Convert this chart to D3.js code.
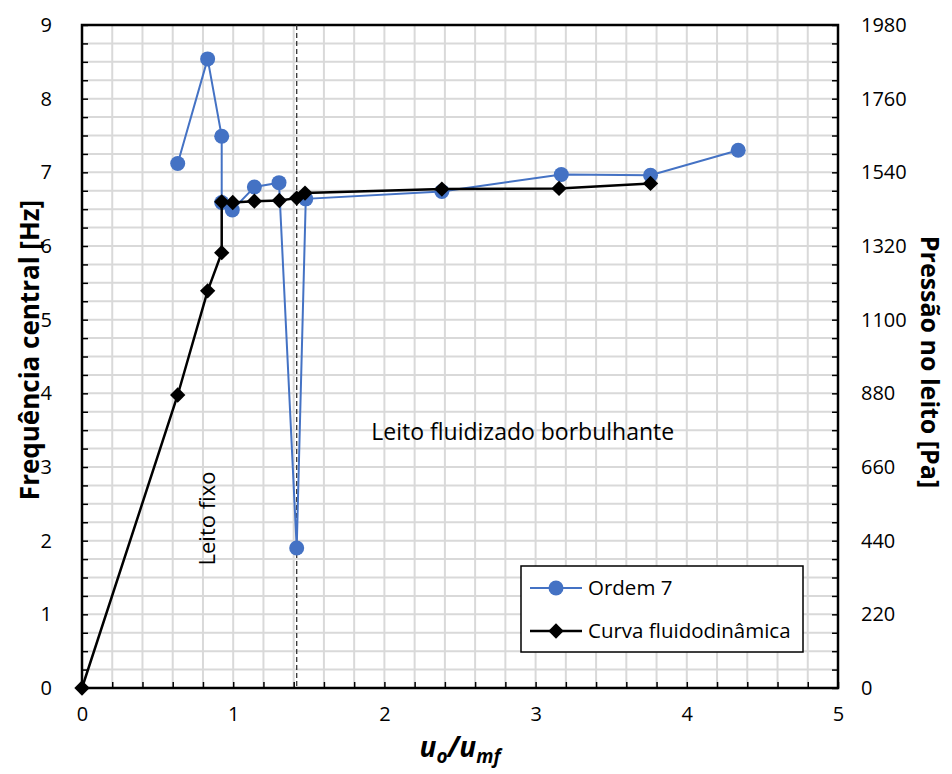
<!DOCTYPE html>
<html>
<head>
<meta charset="utf-8">
<script src="https://cdn.jsdelivr.net/npm/d3@7"></script>
<style>
  body { margin: 0; background: #fff; }
  text { font-family: "Open Sans", sans-serif; }
</style>
</head>
<body>
<div id="chart"></div>
<script>
// Ordem 7 (left axis, Hz)
var ordemX = [0.633, 0.831, 0.924, 0.924, 0.994, 1.14, 1.303, 1.42, 1.48, 2.38, 3.17, 3.76, 4.34];
var ordemY = [7.12, 8.54, 7.49, 6.59, 6.49, 6.80, 6.86, 1.90, 6.64, 6.74, 6.97, 6.96, 7.30];

// Curva fluidodinamica (right axis, Pa)
var curvaX = [0, 0.633, 0.831, 0.924, 0.924, 0.997, 1.14, 1.305, 1.42, 1.475, 2.38, 3.155, 3.76];
var curvaP = [0, 875, 1186, 1300, 1452, 1450, 1454, 1456, 1463, 1478, 1490, 1492, 1507];

var xTicks = [0, 1, 2, 3, 4, 5];
var yLeftTicks = [0, 1, 2, 3, 4, 5, 6, 7, 8, 9];
var yRightTicks = [0, 220, 440, 660, 880, 1100, 1320, 1540, 1760, 1980];
var umfLine = 1.42;

var W = 952, H = 774;
var margin = { top: 25, right: 114, bottom: 86, left: 82 },
    width = W - margin.left - margin.right,
    height = H - margin.top - margin.bottom;

var svg = d3.select("#chart").append("svg")
    .attr("width", W)
    .attr("height", H);

var g = svg.append("g")
    .attr("transform", "translate(" + margin.left + "," + margin.top + ")");

// Scales
var x = d3.scaleLinear().domain([0, 5]).range([0, width]);
var yL = d3.scaleLinear().domain([0, 9]).range([height, 0]);
var yR = d3.scaleLinear().domain([0, 1980]).range([height, 0]);

// gridlines (0.2 on x, 0.25 on y)
var grid = g.append("g").attr("class", "grid");
grid.selectAll("line.vx")
    .data(d3.range(1, 25).map(function (i) { return i * 0.2; }))
    .enter().append("line")
    .attr("x1", function (d) { return x(d); })
    .attr("x2", function (d) { return x(d); })
    .attr("y1", 0).attr("y2", height)
    .attr("stroke", "#d9d9d9").attr("stroke-width", 2);
grid.selectAll("line.hy")
    .data(d3.range(1, 36).map(function (i) { return i * 0.25; }))
    .enter().append("line")
    .attr("y1", function (d) { return yL(d); })
    .attr("y2", function (d) { return yL(d); })
    .attr("x1", 0).attr("x2", width)
    .attr("stroke", "#d9d9d9").attr("stroke-width", 2);

// inner ticks
var minorX = d3.range(0, 26).map(function (i) { return i * 0.2; });
var minorY = d3.range(0, 37).map(function (i) { return i * 0.25; });

g.append("g")
    .attr("transform", "translate(0," + height + ")")
    .call(d3.axisBottom(x).tickValues(minorX).tickSize(-6).tickFormat(""))
    .call(function (a) { a.select(".domain").remove(); });
g.append("g")
    .call(d3.axisLeft(yL).tickValues(minorY).tickSize(-6).tickFormat(""))
    .call(function (a) { a.select(".domain").remove(); });
g.append("g")
    .attr("transform", "translate(" + width + ",0)")
    .call(d3.axisRight(yL).tickValues(minorY).tickSize(-6).tickFormat(""))
    .call(function (a) { a.select(".domain").remove(); });
g.selectAll(".tick line").attr("stroke", "#000").attr("stroke-width", 1.5);

// tick labels
function styleLabels(a) {
    a.select(".domain").remove();
    a.selectAll("text").attr("font-size", 20).attr("font-family", "Open Sans").attr("fill", "#000");
}
g.append("g")
    .attr("transform", "translate(0," + height + ")")
    .call(d3.axisBottom(x).tickValues(xTicks).tickSize(0).tickPadding(19).tickFormat(d3.format("d")))
    .call(styleLabels);
g.append("g")
    .call(d3.axisLeft(yL).tickValues(yLeftTicks).tickSize(0).tickPadding(30).tickFormat(d3.format("d")))
    .call(styleLabels);
g.append("g")
    .attr("transform", "translate(" + width + ",0)")
    .call(d3.axisRight(yR).tickValues(yRightTicks).tickSize(0).tickPadding(23).tickFormat(d3.format("d")))
    .call(styleLabels);

// frame
g.append("rect")
    .attr("width", width).attr("height", height)
    .attr("fill", "none").attr("stroke", "#000").attr("stroke-width", 2.5);

// dashed umf line
g.append("line")
    .attr("x1", x(umfLine)).attr("x2", x(umfLine))
    .attr("y1", 0).attr("y2", height)
    .attr("stroke", "#333").attr("stroke-width", 1.3)
    .attr("stroke-dasharray", "5,3");

// annotations
g.append("text")
    .attr("x", x(2.915)).attr("y", yL(3.36))
    .attr("text-anchor", "middle")
    .attr("font-size", 23)
    .text("Leito fluidizado borbulhante");
g.append("text")
    .attr("transform", "translate(" + (215 - margin.left) + "," + yL(2.3) + ") rotate(-90)")
    .attr("text-anchor", "middle")
    .attr("font-size", 22)
    .text("Leito fixo");

// series
var ordem = ordemX.map(function (d, i) { return [d, ordemY[i]]; });
var curva = curvaX.map(function (d, i) { return [d, curvaP[i]]; });

var lineL = d3.line().x(function (d) { return x(d[0]); }).y(function (d) { return yL(d[1]); });
var lineR = d3.line().x(function (d) { return x(d[0]); }).y(function (d) { return yR(d[1]); });

var blue = "#4472C4";
g.append("path").datum(ordem)
    .attr("d", lineL).attr("fill", "none")
    .attr("stroke", blue).attr("stroke-width", 2);
g.selectAll("circle.ordem").data(ordem).enter().append("circle")
    .attr("class", "ordem")
    .attr("cx", function (d) { return x(d[0]); })
    .attr("cy", function (d) { return yL(d[1]); })
    .attr("r", 7.5).attr("fill", blue);

var diamond = d3.symbol().type(d3.symbolDiamond2).size(150);
g.append("path").datum(curva)
    .attr("d", lineR).attr("fill", "none")
    .attr("stroke", "#000").attr("stroke-width", 2.5);
g.selectAll("path.curva").data(curva).enter().append("path")
    .attr("class", "curva")
    .attr("d", diamond)
    .attr("transform", function (d) { return "translate(" + x(d[0]) + "," + yR(d[1]) + ")"; })
    .attr("fill", "#000");

// axis titles
svg.append("text")
    .attr("transform", "translate(39,350) rotate(-90)")
    .attr("text-anchor", "middle")
    .attr("font-size", 26).attr("font-weight", "bold")
    .text("Frequência central [Hz]");
svg.append("text")
    .attr("transform", "translate(921,362) rotate(90)")
    .attr("text-anchor", "middle")
    .attr("font-size", 25).attr("font-weight", "bold")
    .text("Pressão no leito [Pa]");

var xt = svg.append("text")
    .attr("x", margin.left + x(2.5))
    .attr("y", 757)
    .attr("text-anchor", "middle")
    .attr("font-family", "DejaVu Serif")
    .attr("font-style", "italic").attr("font-weight", "bold")
    .attr("font-size", 28);
xt.append("tspan").text("u");
xt.append("tspan").attr("font-size", 19).attr("dy", 6).text("o");
xt.append("tspan").attr("dy", -6).text("/u");
xt.append("tspan").attr("font-size", 19).attr("dy", 6).text("mf");

// legend
var leg = g.append("g").attr("transform", "translate(" + (521 - margin.left) + "," + (566 - margin.top) + ")");
leg.append("rect").attr("width", 282).attr("height", 86)
    .attr("fill", "#fff").attr("stroke", "#000").attr("stroke-width", 1.5);
var items = [
    { name: "Ordem 7", color: blue, sym: "circle", w: 2 },
    { name: "Curva fluidodinâmica", color: "#000", sym: "diamond", w: 2.5 }
];
items.forEach(function (it, i) {
    var yy = 22 + i * 43;
    leg.append("line").attr("x1", 9).attr("x2", 61).attr("y1", yy).attr("y2", yy)
        .attr("stroke", it.color).attr("stroke-width", it.w);
    if (it.sym === "circle") {
        leg.append("circle").attr("cx", 35).attr("cy", yy).attr("r", 7.5).attr("fill", it.color);
    } else {
        leg.append("path").attr("d", diamond).attr("transform", "translate(35," + yy + ")").attr("fill", it.color);
    }
    leg.append("text").attr("x", 67).attr("y", yy).attr("dy", "0.35em")
        .attr("font-size", 20.5).text(it.name);
});
</script>
</body>
</html>
